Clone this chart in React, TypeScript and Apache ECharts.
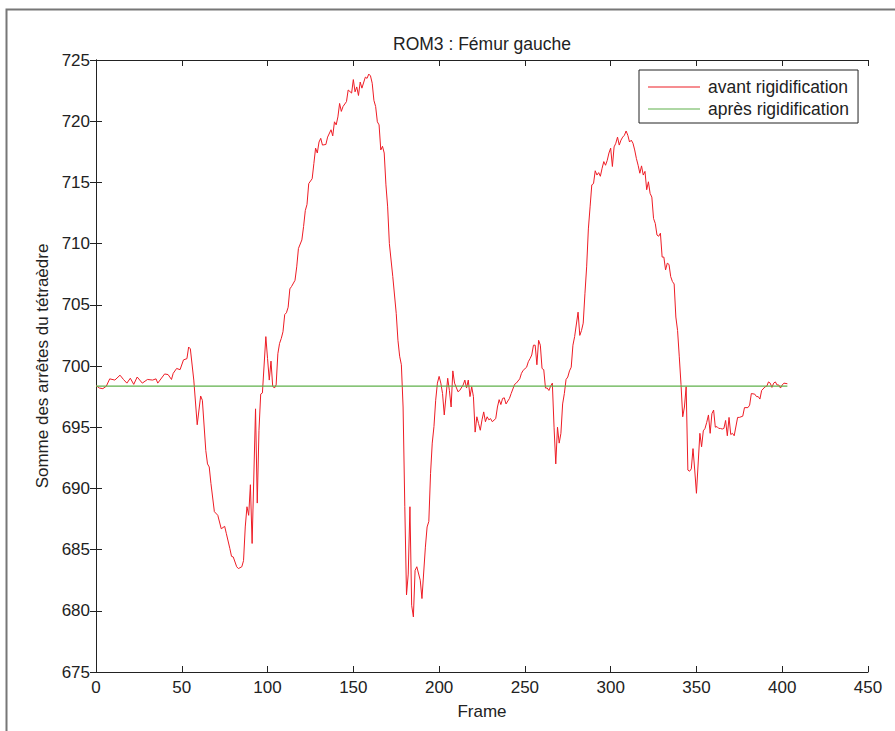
import React, { useEffect, useRef } from "react";
import * as echarts from "echarts";

const titleText = "ROM3 : Fémur gauche";
const xName = "Frame";
const yName = "Somme des arrêtes du tétraèdre";
const seriesNames = ["avant rigidification", "après rigidification"];

const frames = [
  0, 2, 4, 6, 8, 11, 14, 16, 18, 20, 22, 24, 27, 30, 33, 35, 36, 40, 42, 44, 45, 47, 49, 51, 53, 54, 55, 57, 59, 61, 62, 64, 65, 66, 67, 69,
  71, 73, 75, 76, 78, 79, 80, 82, 83, 85, 86, 87, 88, 89, 90, 91, 93, 94, 95, 96, 97, 99, 100, 101, 102, 103, 104, 105, 106, 107, 108, 109,
  110, 111, 112, 113, 114, 116, 117, 118, 120, 121, 122, 123, 124, 126, 127, 128, 129, 130, 131, 132, 134, 135, 137, 138, 139, 140, 141,
  142, 143, 144, 146, 147, 149, 150, 151, 152, 153, 154, 155, 157, 158, 159, 160, 161, 162, 163, 164, 165, 166, 167, 168, 169, 170, 171,
  173, 175, 176, 177, 178, 179, 180, 181, 182, 183, 184, 185, 186, 187, 189, 190, 192, 193, 194, 195, 196, 197, 198, 199, 200, 201, 202,
  203, 205, 206, 207, 208, 209, 211, 212, 214, 215, 216, 217, 218, 219, 220, 221, 222, 223, 224, 225, 226, 227, 228, 229, 230, 231, 233,
  234, 235, 236, 237, 238, 239, 241, 242, 244, 245, 247, 248, 249, 251, 252, 253, 254, 255, 256, 257, 258, 259, 260, 261, 262, 263, 264,
  265, 266, 267, 268, 269, 270, 271, 272, 273, 274, 275, 276, 277, 278, 279, 281, 282, 283, 284, 285, 286, 287, 288, 289, 290, 291, 292,
  293, 294, 295, 296, 297, 298, 299, 300, 301, 302, 303, 304, 305, 306, 307, 308, 309, 310, 311, 312, 313, 314, 315, 316, 317, 318, 319,
  320, 321, 322, 323, 324, 325, 326, 327, 328, 329, 330, 331, 332, 333, 334, 335, 336, 337, 338, 339, 340, 341, 342, 343, 344, 345, 346,
  347, 348, 349, 350, 352, 353, 354, 355, 356, 357, 358, 359, 360, 361, 362, 363, 364, 365, 366, 367, 368, 369, 370, 371, 372, 374, 375,
  377, 378, 380, 381, 382, 384, 385, 386, 387, 388, 390, 391, 392, 393, 394, 395, 396, 397, 398, 399, 400, 401, 403,
];

const avant = [
  698.4, 698.2, 698.15, 698.35, 698.95, 698.85, 699.25, 698.9, 698.6, 699.0, 698.5, 699.1, 698.6, 698.9, 698.85, 698.95, 698.6, 699.35,
  699.3, 698.9, 699.4, 699.8, 699.7, 700.5, 700.6, 701.55, 701.4, 698.85, 695.2, 697.55, 697.2, 693.1, 692.0, 691.75, 690.4, 688.1,
  687.8, 686.7, 686.9, 686.3, 685.1, 684.45, 684.4, 683.6, 683.45, 683.6, 684.1, 686.85, 688.5, 687.8, 690.3, 685.5, 696.5, 688.8, 694.75,
  697.7, 697.8, 702.4, 700.6, 698.85, 700.4, 698.35, 698.2, 698.45, 701.0, 701.85, 702.25, 702.8,
  704.2, 704.35, 704.8, 706.3, 706.5, 707.0, 708.1, 709.6, 710.3, 711.4, 712.7, 713.2, 714.9, 715.3, 716.55, 717.8, 717.4, 718.3, 718.6,
  718.05, 718.1, 718.7, 719.3, 718.8, 719.95, 719.7, 720.35,
  721.45, 720.8, 721.2, 721.6, 722.55, 722.3, 723.4, 722.4, 722.8, 722.1, 723.2, 722.7, 723.6, 723.5, 723.85, 723.7, 723.1, 721.7, 721.2,
  719.95, 719.7, 717.65, 717.95, 717.4, 714.8, 713.0, 710.0,
  707.3, 704.3, 702.1, 700.8, 700.1, 696.65, 688.5, 681.3, 683.0, 688.5, 680.45, 679.5, 683.3, 683.6, 682.5, 681.0, 685.2, 686.85, 687.3,
  691.2, 693.7, 695.05, 697.2, 698.6, 699.15, 698.6, 697.75,
  696.0, 699.0, 698.0, 696.65, 699.6, 698.6, 697.9, 698.0, 698.45, 698.85, 698.2, 698.85, 697.5, 698.3, 697.5, 694.6, 695.85, 695.3, 694.75,
  695.6, 696.25, 695.45, 695.85, 695.6, 695.7, 695.45, 695.7,
  696.65, 697.25, 696.85, 697.35, 697.4, 696.9, 697.35, 697.75, 698.5, 698.6, 698.95, 699.4, 699.65, 699.9, 700.35, 700.6, 700.9, 701.7,
  701.7, 700.1, 702.1, 701.7, 699.8, 699.7, 698.2, 698.2, 698.0,
  698.35, 698.6, 695.0, 692.0, 695.0, 693.7, 694.5, 696.9, 697.75, 698.9, 699.1, 699.6, 699.9, 701.7, 702.4, 704.4, 702.5, 702.9, 703.5,
  705.9, 708.1, 711.2, 713.0, 714.8, 714.9, 715.95, 715.6,
  715.8, 715.5, 716.15, 716.7, 716.4, 716.8, 717.4, 717.8, 716.3, 717.9, 718.2, 718.7, 718.05, 718.45, 718.7, 718.85, 719.2, 718.85, 718.3,
  718.45, 718.2, 717.65, 716.95, 716.4, 715.75, 716.35, 715.6,
  715.9, 714.4, 715.05, 714.1, 713.8, 712.05, 711.65, 710.7, 710.6, 710.85, 708.9, 708.9, 707.85, 708.4, 708.3, 707.3, 706.9, 706.7, 704.0,
  702.9, 700.75, 698.5, 695.85, 696.65, 698.3, 691.5, 691.4,
  691.6, 693.25, 691.5, 689.6, 694.5, 693.4, 694.7, 694.9, 695.4, 696.0, 694.5, 696.1, 696.4, 695.0, 695.05, 694.9, 694.9, 694.85, 694.9,
  695.55, 694.3, 695.8, 694.4, 694.5, 694.3, 695.8, 695.8,
  695.9, 696.6, 696.6, 696.8, 697.75, 697.7, 697.5, 697.5, 697.3, 698.0, 698.3, 698.35, 698.7, 698.6, 698.25, 698.6, 698.7, 698.45, 698.45,
  698.2, 698.45, 698.6, 698.55,
];

const apresFrames = [0, 403];
const apres = [698.35, 698.35];

const xTicks = { min: 0, max: 450, interval: 50 };
const yTicks = { min: 675, max: 725, interval: 5 };

const FONT = "'Liberation Sans', Arial, Helvetica, sans-serif";
const RED = "#ee1c25";
const GREEN = "#5fb04a";

export default function App() {
  const ref = useRef<HTMLDivElement>(null);
  useEffect(() => {
    if (!ref.current) return;
    const chart = echarts.init(ref.current, null, { renderer: "svg" });
    const axisLine = { show: true, lineStyle: { color: "#222", width: 1 } };
    const tick = { show: true, inside: true, length: 6, lineStyle: { color: "#222", width: 1 } };
    chart.setOption({
      animation: false,
      backgroundColor: "#fff",
      textStyle: { fontFamily: FONT },
      title: {
        text: titleText,
        left: 482,
        textAlign: "center",
        top: 35,
        padding: 0,
        textStyle: { fontSize: 17.5, fontWeight: "normal", color: "#222", fontFamily: FONT },
      },
      grid: { left: 96, right: 27, top: 60, bottom: 59, containLabel: false },
      legend: {
        orient: "vertical",
        left: 639,
        top: 70,
        padding: [8, 9, 5, 9],
        itemGap: 4,
        itemWidth: 52,
        itemHeight: 18,
        backgroundColor: "#fff",
        borderColor: "#222",
        borderWidth: 1,
        borderRadius: 0,
        icon: "path://M0,8.6 L52,8.6 L52,9.4 L0,9.4 Z",
        data: [
          { name: seriesNames[0], itemStyle: { color: RED } },
          { name: seriesNames[1], itemStyle: { color: GREEN } },
        ],
        textStyle: { fontSize: 17.5, color: "#222", fontFamily: FONT, lineHeight: 18, padding: [0, 0, 0, 3] },
      },
      xAxis: [
        {
          type: "value",
          ...xTicks,
          position: "bottom",
          name: xName,
          nameLocation: "middle",
          nameGap: 31,
          nameTextStyle: { fontSize: 17, color: "#222", fontFamily: FONT },
          axisLine,
          axisTick: tick,
          axisLabel: { fontSize: 17, color: "#222", margin: 7, fontFamily: FONT },
          splitLine: { show: false },
        },
        {
          type: "value",
          ...xTicks,
          position: "top",
          axisLine,
          axisTick: tick,
          axisLabel: { show: false },
          splitLine: { show: false },
        },
      ],
      yAxis: [
        {
          type: "value",
          ...yTicks,
          position: "left",
          name: yName,
          nameLocation: "middle",
          nameGap: 45,
          nameTextStyle: { fontSize: 17, color: "#222", fontFamily: FONT },
          axisLine,
          axisTick: tick,
          axisLabel: { fontSize: 17, color: "#222", margin: 6, fontFamily: FONT },
          splitLine: { show: false },
        },
        {
          type: "value",
          ...yTicks,
          position: "right",
          axisLine,
          axisTick: tick,
          axisLabel: { show: false },
          splitLine: { show: false },
        },
      ],
      graphic: [
        {
          type: "rect",
          z: -10,
          shape: { x: 6.5, y: 9.5, width: 1000, height: 1000 },
          style: { fill: "none", stroke: "#777", lineWidth: 2 },
          silent: true,
        },
      ],
      series: [
        {
          name: seriesNames[0],
          type: "line",
          symbol: "none",
          showSymbol: false,
          color: RED,
          lineStyle: { color: RED, width: 1 },
          data: frames.map((f, i) => [f, avant[i]]),
          z: 2,
        },
        {
          name: seriesNames[1],
          type: "line",
          symbol: "none",
          showSymbol: false,
          color: GREEN,
          lineStyle: { color: GREEN, width: 1.2 },
          data: apresFrames.map((f, i) => [f, apres[i]]),
          z: 3,
        },
      ],
    });
    return () => chart.dispose();
  }, []);
  return <div ref={ref} style={{ position: "fixed", left: 0, top: 0, width: 895, height: 731 }} />;
}
